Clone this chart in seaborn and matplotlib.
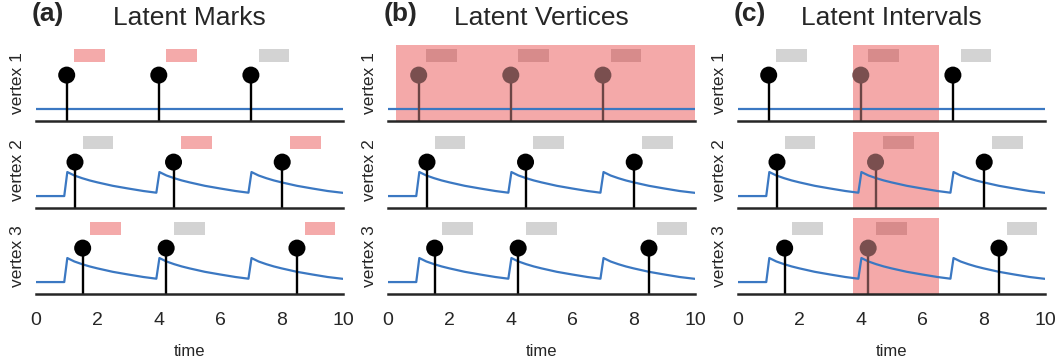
import numpy as np
import seaborn as sns
import matplotlib.pyplot as plt
import pandas as pd

sns.set_theme(style="white")
plt.rcParams['font.family'] = ['Liberation Sans', 'DejaVu Sans']

panel_letters = ['(a)', '(b)', '(c)']
panel_titles = ['Latent Marks', 'Latent Vertices', 'Latent Intervals']
vertex_names = ['vertex 1', 'vertex 2', 'vertex 3']
xtick_vals = [0, 2, 4, 6, 8, 10]

# event times per vertex (same in all three panels)
event_times = [
    [1.0, 4.0, 7.0],
    [1.27, 4.48, 8.02],
    [1.52, 4.24, 8.5],
]

# mark type per event: 'r' red, 'g' gray, 'l' latent (hidden under shading)
mark_kinds = {
    '(a)': [['r', 'r', 'g'], ['g', 'r', 'r'], ['r', 'g', 'r']],
    '(b)': [['l', 'l', 'l'], ['g', 'g', 'g'], ['g', 'g', 'g']],
    '(c)': [['g', 'l', 'g'], ['g', 'l', 'g'], ['g', 'l', 'g']],
}

# shaded (latent) regions: panel -> list of (row, x start, x end)
shade_regions = {
    '(a)': [],
    '(b)': [(0, 0.25, 10.0)],
    '(c)': [(0, 3.75, 6.55), (1, 3.75, 6.55), (2, 3.75, 6.55)],
}

# blue intensity curves
flat_t = [0, 10]
flat_y = [0.156, 0.156]
curve_t = [0, 0.92, 1.02, 1.25, 1.5, 1.75, 2.0, 2.5, 3.0, 3.5, 3.92,
           4.02, 4.25, 4.5, 4.75, 5.0, 5.5, 6.0, 6.5, 6.92,
           7.02, 7.25, 7.5, 7.75, 8.0, 8.5, 9.0, 9.5, 10.0]
curve_y = [0.156, 0.156, 0.47, 0.425, 0.39, 0.36, 0.335, 0.29, 0.255, 0.222, 0.2,
           0.47, 0.425, 0.39, 0.36, 0.335, 0.29, 0.255, 0.222, 0.2,
           0.47, 0.425, 0.39, 0.36, 0.335, 0.29, 0.255, 0.222, 0.198]

blue = '#3b78c2'
red_mark = '#f4aaaa'
gray_mark = '#d3d3d3'
latent_mark = '#d78b8b'
shade = '#f4a9a9'
dot_col = {'r': 'black', 'g': 'black', 'l': '#7a4f4f'}
stem_col = {'r': 'black', 'g': 'black', 'l': '#6b4545'}
rect_col = {'r': red_mark, 'g': gray_mark, 'l': latent_mark}
dot_h = 0.6
rect_lo, rect_h = 0.775, 0.16
rect_off, rect_w = 0.25, 1.0

fig = plt.figure(figsize=(10.6, 3.62), dpi=100)
lefts = [36 / 1060, 388 / 1060, 738 / 1060]
width = 307 / 1060
bottoms = [1 - 121 / 362, 1 - 208 / 362, 1 - 294 / 362]
height = 76.5 / 362

for p, letter in enumerate(panel_letters):
    for r in range(3):
        ax = fig.add_axes([lefts[p], bottoms[r], width, height])
        for (row, x0, x1) in shade_regions[letter]:
            if row == r:
                ax.axvspan(x0, x1, color=shade, lw=0, zorder=0)
        if r == 0:
            sns.lineplot(x=flat_t, y=flat_y, color=blue, lw=1.6, ax=ax, zorder=2)
        else:
            sns.lineplot(x=curve_t, y=curve_y, color=blue, lw=1.6, ax=ax, zorder=2)
        kinds = mark_kinds[letter][r]
        for t, k in zip(event_times[r], kinds):
            ax.vlines(t, 0, dot_h, color=stem_col[k], lw=1.7, zorder=3)
            ax.broken_barh([(t + rect_off, rect_w)], (rect_lo, rect_h),
                           facecolor=rect_col[k], lw=0, zorder=2)
        df = pd.DataFrame({'t': event_times[r], 'y': [dot_h] * 3, 'k': kinds})
        sns.scatterplot(data=df, x='t', y='y', hue='k', palette=dot_col,
                        s=150, linewidth=0, legend=False, ax=ax, zorder=4)
        ax.set_xlim(0, 10)
        ax.set_ylim(0, 1)
        ax.set_yticks([])
        ax.set_ylabel(vertex_names[r], fontsize=12.5, labelpad=8, color='#262626')
        for s in ['top', 'right', 'left']:
            ax.spines[s].set_visible(False)
        ax.spines['bottom'].set_color('#262626')
        ax.spines['bottom'].set_linewidth(1.8)
        ax.spines['bottom'].set_zorder(5)
        if r == 2:
            ax.set_xticks(xtick_vals)
            ax.tick_params(axis='x', length=0, pad=13, labelsize=14,
                           labelcolor='#262626')
            ax.set_xlabel('time', fontsize=12, labelpad=11, color='#262626')
        else:
            ax.set_xticks([])
            ax.set_xlabel('')
        if r == 0:
            ax.set_title(panel_titles[p], fontsize=19, pad=14, color='#262626')
            ax.text(-0.015, 1.4, letter, transform=ax.transAxes, fontsize=19,
                    fontweight='bold', color='#262626', ha='left', va='center')

fig.savefig('out.png', dpi=100)
